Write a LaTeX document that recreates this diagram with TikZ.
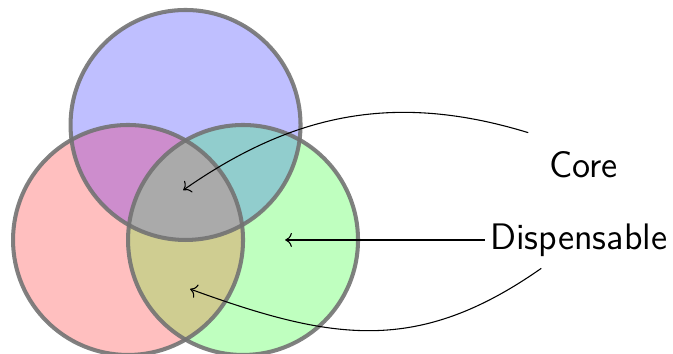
\documentclass[tikz,border=0pt]{standalone}
\usepackage{tikz}
\usetikzlibrary{arrows.meta,positioning}

\definecolor{setred}{RGB}{255,191,191}
\definecolor{setgreen}{RGB}{191,255,191}
\definecolor{setblue}{RGB}{191,191,255}
\definecolor{redblue}{RGB}{205,141,205}
\definecolor{redgreen}{RGB}{207,205,145}
\definecolor{greenblue}{RGB}{145,205,205}
\definecolor{allthree}{RGB}{170,170,170}

\begin{document}
\begin{tikzpicture}[
			setcircle/.style={circle, minimum size=3cm, inner sep=0pt, draw=black!55, draw opacity=0.9, line width=1.5pt},
			setname/.style={font=\sffamily\fontsize{13.7}{16}\selectfont, inner sep=2pt},
			arrow/.style={draw, black, thin, ->}
			]
			\useasboundingbox (-1.670,-1.487) rectangle (7.108,3.130);
			
			% Flaechen
			\fill [setred] (0,0) circle (1.5);
			\fill [setgreen] (1.5,0) circle (1.5);
			\fill [setblue] (0.75,1.5) circle (1.5);
			\begin{scope}
				\clip (1.5,0) circle (1.5);
				\fill [greenblue] (0.75,1.5) circle (1.5);
			\end{scope}
			\begin{scope}
				\clip (0,0) circle (1.5);
				\fill [redblue] (0.75,1.5) circle (1.5);
				\fill [redgreen] (1.5,0) circle (1.5);
				\clip (1.5,0) circle (1.5);
				\fill [allthree] (0.75,1.5) circle (1.5);
			\end{scope}
			
			% Mengen
			\node (R) [setcircle] at (0,0) {};
			\node (G) [setcircle] at (1.5,0) {};
			\node (B) [setcircle] at (0.75,1.5) {};
			
			% Ziele
			\coordinate (core) at (0.72,0.65);
			\coordinate (rim) at (2.05,0);
			\coordinate (lens) at (0.81,-0.64);
			
			% Beschriftungen
			\node (Core) [setname] at (5.94,0.98) {Core};
			\node (Disp) [setname] at (5.88,0) {Dispensable};
			
			% Pfeile
			\draw [arrow] ([shift={(-0.72,0.42)}]Core.center) to[out=163, in=35] (core);
			\draw [arrow] (Disp.west) -- (rim);
			\draw [arrow] ([shift={(-0.49,-0.37)}]Disp.center) to[out=215, in=-20, looseness=1.1] (lens);
			
		\end{tikzpicture}
\end{document}
